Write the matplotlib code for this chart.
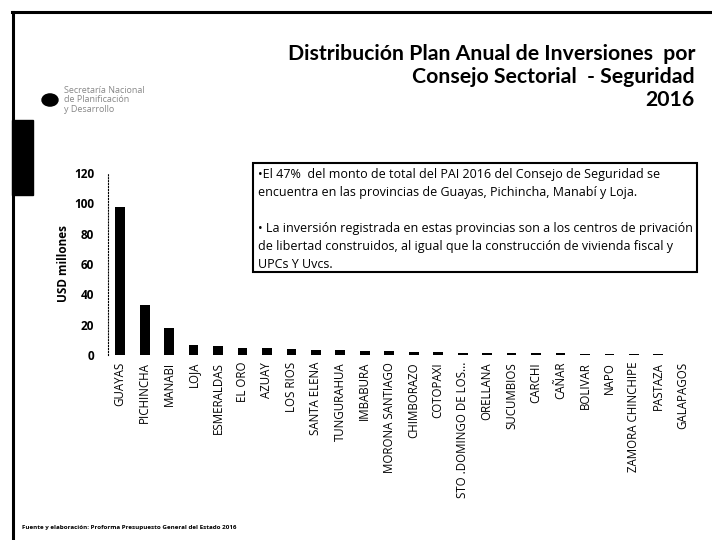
import matplotlib
matplotlib.use("Agg")
import matplotlib.pyplot as plt
from matplotlib.patches import Rectangle, Circle

provincias = ["GUAYAS", "PICHINCHA", "MANABI", "LOJA", "ESMERALDAS", "EL ORO", "AZUAY",
              "LOS RIOS", "SANTA ELENA", "TUNGURAHUA", "IMBABURA", "MORONA SANTIAGO",
              "CHIMBORAZO", "COTOPAXI", "STO .DOMINGO DE LOS...", "ORELLANA", "SUCUMBIOS",
              "CARCHI", "CAÑAR", "BOLIVAR", "NAPO", "ZAMORA CHINCHIPE", "PASTAZA", "GALAPAGOS"]
montos = [97.5, 33.0, 18.0, 6.5, 5.8, 4.8, 4.3, 4.0, 3.2, 3.0, 2.6, 2.5,
          2.1, 1.8, 1.6, 1.4, 1.2, 1.0, 1.0, 0.9, 0.8, 0.6, 0.5, 0.0]
yticks = [0, 20, 40, 60, 80, 100, 120]

plt.rcParams['font.family'] = ['Open Sans', 'DejaVu Sans']

fig = plt.figure(figsize=(7.12, 5.40), dpi=100)
W, H = 712, 540

# frame
fig.add_artist(plt.Line2D([12 / W, 1.0], [1 - 12 / H, 1 - 12 / H], color='black', lw=2.2))
fig.add_artist(plt.Line2D([13 / W, 13 / W], [0, 1 - 12 / H], color='black', lw=2.2))
fig.add_artist(Rectangle((12 / W, 1 - 195 / H), 21 / W, 75 / H, color='black'))

# logo
fig.add_artist(Circle((50 / W, 1 - 100 / H), 8 / W, color='black', transform=fig.transFigure))
fig.text(64 / W, 1 - 100 / H, "Secretaría Nacional\nde Planificación\ny Desarrollo",
         fontsize=6.5, color='#888888', va='center', ha='left', linespacing=1.1)

# title
fig.text(695 / W, 1 - 77 / H, "Distribución Plan Anual de Inversiones  por\nConsejo Sectorial  - Seguridad\n2016",
         fontsize=15.3, fontweight='bold', ha='right', va='center', linespacing=1.2,
         family=['Lato', 'DejaVu Sans'])

ax = fig.add_axes([108 / W, 1 - 355 / H, 587 / W, 182 / H])
x = range(len(provincias))
ax.bar(x, montos, width=0.4, color='black')
ax.set_xlim(-0.5, len(provincias) - 0.5)
ax.set_ylim(0, 120)
ax.set_yticks(yticks)
ax.set_yticklabels([str(v) for v in yticks], fontsize=8.5, fontweight='bold')
ax.set_xticks(list(x))
ax.set_xticklabels(provincias, rotation=90, fontsize=8.3)
ax.tick_params(axis='y', length=0, pad=10)
ax.tick_params(axis='x', length=0, pad=5)
for s in ['top', 'right', 'bottom']:
    ax.spines[s].set_visible(False)
ax.spines['left'].set_linestyle(':')
ax.spines['left'].set_linewidth(0.8)
ax.set_ylabel("USD millones", fontsize=8.5, fontweight='bold', labelpad=3)

# annotation box
box_text = ("•El 47%  del monto de total del PAI 2016 del Consejo de Seguridad se\n"
            "encuentra en las provincias de Guayas, Pichincha, Manabí y Loja.\n\n"
            "• La inversión registrada en estas provincias son a los centros de privación\n"
            "de libertad construidos, al igual que la construcción de vivienda fiscal y\n"
            "UPCs Y Uvcs.")
fig.add_artist(Rectangle((253 / W, 1 - 272 / H), 444 / W, 109 / H, fill=False,
                         edgecolor='black', lw=1.5, transform=fig.transFigure))
fig.text(258 / W, 1 - 168 / H, box_text, fontsize=9.0, va='top', ha='left', linespacing=1.5,
         family=['Open Sans', 'DejaVu Sans'])

# footer
fig.text(22 / W, 1 - 527 / H, "Fuente y elaboración: Proforma Presupuesto General del Estado 2016",
         fontsize=4.5, fontweight='bold', va='center', ha='left')

fig.savefig("out.png", dpi=100, facecolor='white')
